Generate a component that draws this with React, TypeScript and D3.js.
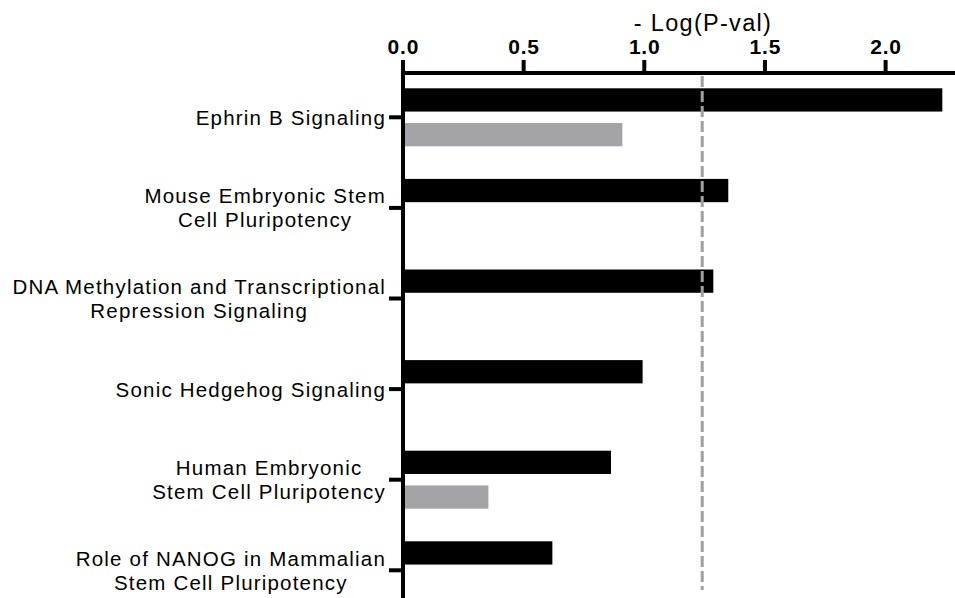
import React, { useEffect, useRef } from "react";
import * as d3 from "d3";

const categories: string[] = [
  "Ephrin B Signaling",
  "Mouse Embryonic Stem\nCell Pluripotency",
  "DNA Methylation and Transcriptional\nRepression Signaling",
  "Sonic Hedgehog Signaling",
  "Human Embryonic\nStem Cell Pluripotency",
  "Role of NANOG in Mammalian\nStem Cell Pluripotency",
];
const seriesBlack: (number | null)[] = [2.235, 1.348, 1.286, 0.993, 0.862, 0.619];
const seriesGray: (number | null)[] = [0.909, null, null, null, 0.354, null];
const thresholdValue = 1.24;
const xTickValues: number[] = [0, 0.5, 1.0, 1.5, 2.0];
const axisTitle = "- Log(P-val)";

const W = 955;
const H = 598;
const FONT = "'Liberation Sans', Arial, Helvetica, sans-serif";

export default function App() {
  const ref = useRef<SVGSVGElement | null>(null);

  useEffect(() => {
    const svg = d3.select(ref.current);
    svg.selectAll("*").remove();

    const x = d3.scaleLinear().domain([0, 2.2876]).range([403, 955]);
    const y = d3.scaleBand<string>().domain(categories).range([72, 72 + 6 * 90.6]).padding(0);
    const sub = d3.scaleBand<string>().domain(["black", "gray"]).range([-29, 29]).paddingInner(0.33);

    const g = svg.append("g");

    const series = [
      { key: "black", values: seriesBlack, color: "#000000" },
      { key: "gray", values: seriesGray, color: "#a3a3a8" },
    ];
    series.forEach((s) => {
      g.append("g")
        .selectAll("rect")
        .data(categories.map((c, i) => ({ c, v: s.values[i] })).filter((d) => d.v != null))
        .join("rect")
        .attr("x", x(0))
        .attr("y", (d) => (y(d.c) as number) + y.bandwidth() / 2 + (sub(s.key) as number))
        .attr("width", (d) => x(d.v as number) - x(0))
        .attr("height", sub.bandwidth())
        .attr("fill", s.color);
    });

    g.append("line")
      .attr("x1", x(thresholdValue))
      .attr("x2", x(thresholdValue))
      .attr("y1", 76)
      .attr("y2", 590)
      .attr("stroke", "#a0a0a0")
      .attr("stroke-width", 3)
      .attr("stroke-dasharray", "11 4");

    const axisY = 73;
    g.append("line")
      .attr("x1", x(0) - 2)
      .attr("x2", W)
      .attr("y1", axisY)
      .attr("y2", axisY)
      .attr("stroke", "#000")
      .attr("stroke-width", 4);
    g.append("g")
      .selectAll("line")
      .data(xTickValues)
      .join("line")
      .attr("x1", (d) => x(d))
      .attr("x2", (d) => x(d))
      .attr("y1", 60)
      .attr("y2", axisY)
      .attr("stroke", "#000")
      .attr("stroke-width", 4);
    g.append("g")
      .selectAll("text")
      .data(xTickValues)
      .join("text")
      .attr("x", (d) => x(d) + 0.4)
      .attr("y", 54)
      .attr("text-anchor", "middle")
      .attr("font-family", FONT)
      .attr("font-weight", "bold")
      .attr("font-size", 21)
      .attr("letter-spacing", 0.8)
      .attr("fill", "#000")
      .text((d) => d3.format(".1f")(d));

    g.append("text")
      .attr("x", 703)
      .attr("y", 31)
      .attr("text-anchor", "middle")
      .attr("font-family", FONT)
      .attr("font-size", 23.5)
      .attr("letter-spacing", 1.3)
      .attr("fill", "#000")
      .text(axisTitle);

    g.append("line")
      .attr("x1", x(0))
      .attr("x2", x(0))
      .attr("y1", 60)
      .attr("y2", H)
      .attr("stroke", "#000")
      .attr("stroke-width", 4);
    g.append("g")
      .selectAll("line")
      .data(categories)
      .join("line")
      .attr("x1", 389)
      .attr("x2", x(0))
      .attr("y1", (d) => (y(d) as number) + y.bandwidth() / 2)
      .attr("y2", (d) => (y(d) as number) + y.bandwidth() / 2)
      .attr("stroke", "#000")
      .attr("stroke-width", 4);

    const lineH = 24;
    const rightEdge = 386;
    categories.forEach((c) => {
      const lines = c.split("\n");
      const cy = (y(c) as number) + y.bandwidth() / 2;
      const t = g
        .append("text")
        .attr("font-family", FONT)
        .attr("font-size", 20.5)
        .attr("letter-spacing", 1.2)
        .attr("fill", "#000")
        .attr("text-anchor", "middle");
      const spans = lines.map((ln, i) =>
        t
          .append("tspan")
          .attr("y", cy + 7.4 + (i - (lines.length - 1) / 2) * lineH)
          .text(ln)
      );
      const widths = spans.map((s) => (s.node() as SVGTSpanElement).getComputedTextLength());
      const maxW = Math.max(...widths);
      spans.forEach((s) => s.attr("x", rightEdge - maxW / 2));
    });
  }, []);

  return (
    <svg
      ref={ref}
      width={W}
      height={H}
      style={{ position: "absolute", left: 0, top: 0, background: "#fff" }}
    />
  );
}
